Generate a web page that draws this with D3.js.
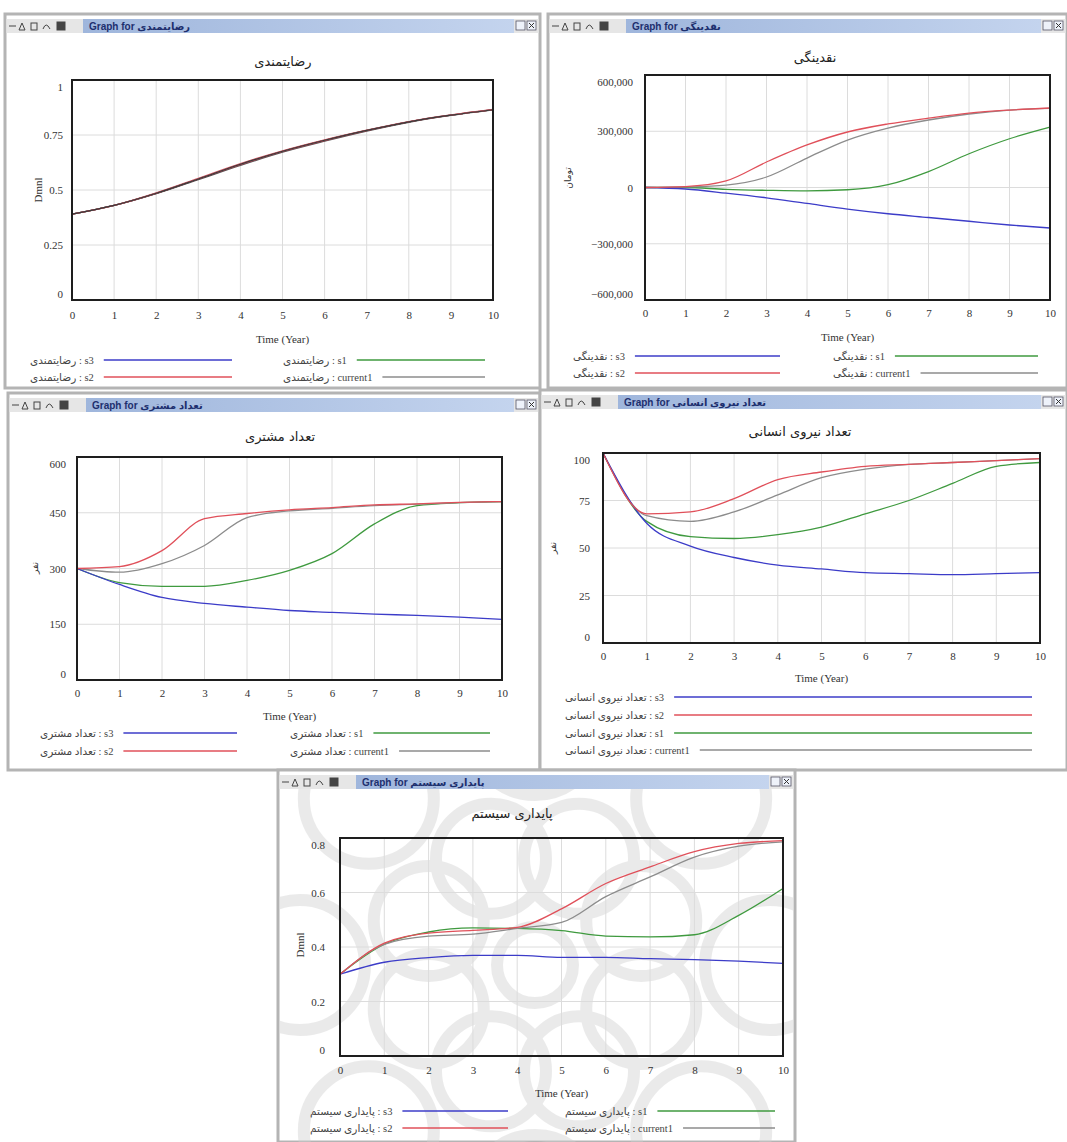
<!DOCTYPE html>
<html><head><meta charset="utf-8">
<script src="https://cdn.jsdelivr.net/npm/d3@7"></script>
<style>body{margin:0;background:#fff}svg{display:block}</style>
</head><body>
<script>
// ---------- data ----------
const years = [0,1,2,3,4,5,6,7,8,9,10];
const seriesNames = ["s3","s2","s1","current1"];
const xAxisTitle = "Time (Year)";

// Panel 1: رضایتمندی
const satisfactionTitle = "رضایتمندی";
const satisfactionUnit = "Dmnl";
const satisfactionTicks = [0,0.25,0.5,0.75,1];
const satisfaction_s3 = [0.39,0.43,0.485,0.55,0.615,0.675,0.725,0.77,0.81,0.84,0.865];
const satisfaction_s2 = [0.39,0.43,0.487,0.553,0.62,0.678,0.728,0.772,0.811,0.841,0.866];
const satisfaction_s1 = [0.39,0.43,0.483,0.547,0.612,0.672,0.722,0.768,0.808,0.839,0.864];
const satisfaction_current1 = [0.39,0.43,0.485,0.55,0.617,0.676,0.726,0.771,0.81,0.84,0.865];

// Panel 2: نقدینگی
const liquidityTitle = "نقدینگی";
const liquidityUnit = "تومان";
const liquidityTicks = [-600000,-300000,0,300000,600000];
const liquidity_s3 = [0,-8000,-30000,-55000,-85000,-115000,-140000,-160000,-180000,-200000,-216000];
const liquidity_s2 = [0,5000,35000,136000,227000,296000,339000,370000,397000,413000,424000];
const liquidity_s1 = [0,0,-10000,-15000,-18000,-12000,15000,85000,180000,260000,322000];
const liquidity_current1 = [0,3000,13000,56000,157000,253000,317000,360000,392000,413000,422000];

// Panel 3: تعداد مشتری
const customersTitle = "تعداد مشتری";
const customersUnit = "نفر";
const customersTicks = [0,150,300,450,600];
const customers_s3 = [300,257,222,206,196,187,182,177,174,169,163];
const customers_s2 = [300,305,348,434,448,458,464,471,474,478,480];
const customers_s1 = [300,262,252,252,268,295,340,420,469,477,480];
const customers_current1 = [300,290,313,362,437,455,462,469,473,477,480];

// Panel 4: تعداد نیروی انسانی
const manpowerTitle = "تعداد نیروی انسانی";
const manpowerUnit = "نفر";
const manpowerTicks = [0,25,50,75,100];
const manpower_s3 = [100,63,51,45,41,39,37,36.5,36,36.5,37];
const manpower_s2 = [100,68,69,76,86,90,93,94,95,96,97];
const manpower_s1 = [100,64,56,55,57,61,68,75,84,93,95];
const manpower_current1 = [100,67,64,69,78,87,91.5,94,95,96,97];

// Panel 5: پایداری سیستم
const stabilityTitle = "پایداری سیستم";
const stabilityUnit = "Dmnl";
const stabilityTicks = [0,0.2,0.4,0.6,0.8];
const stability_s3 = [0.30,0.344,0.361,0.369,0.369,0.362,0.362,0.357,0.354,0.348,0.34];
const stability_s2 = [0.30,0.414,0.451,0.461,0.472,0.54,0.633,0.694,0.75,0.78,0.79];
const stability_s1 = [0.30,0.41,0.455,0.47,0.468,0.46,0.44,0.437,0.445,0.516,0.615];
const stability_current1 = [0.30,0.41,0.44,0.447,0.468,0.49,0.585,0.657,0.73,0.77,0.786];

// ---------- styles / layout ----------
const colors = {s3:"#3c3cc8", s2:"#e0505a", s1:"#3f9a3f", current1:"#8c8c8c"};
const SERIF = "'Liberation Serif','DejaVu Serif',serif";
const AR = "'DejaVu Sans',sans-serif";

const panels = [
 {title:satisfactionTitle, unit:satisfactionUnit, ticks:satisfactionTicks, fmt:d3.format(""),
  series:{s3:satisfaction_s3,s2:satisfaction_s2,s1:satisfaction_s1,current1:satisfaction_current1},
  lineColors:{s3:"#b84a5a",s2:"#d05a66",s1:"#555",current1:"#3a3a3a"},
  win:[5,14,535,374], box:[72,80,493,300], titlePos:[283,66], yTickX:63, unitPos:[38,190],
  xTickY:319, xTitleY:339, rows:[360,377], cols:[[30,232],[283,485]]},
 {title:liquidityTitle, unit:liquidityUnit, ticks:liquidityTicks, fmt:d3.format(","),
  series:{s3:liquidity_s3,s2:liquidity_s2,s1:liquidity_s1,current1:liquidity_current1},
  win:[548,14,519,374], box:[645,75,1050,300], titlePos:[815,62], yTickX:633, unitPos:[568,178],
  xTickY:317, xTitleY:337, rows:[356,373], cols:[[573,780],[833,1038]]},
 {title:customersTitle, unit:customersUnit, ticks:customersTicks, fmt:d3.format(""),
  series:{s3:customers_s3,s2:customers_s2,s1:customers_s1,current1:customers_current1},
  win:[8,393,532,377], box:[77,457,502,680], titlePos:[280,441], yTickX:66, unitPos:[35,568],
  xTickY:697, xTitleY:716, rows:[733,751], cols:[[40,237],[290,490]]},
 {title:manpowerTitle, unit:manpowerUnit, ticks:manpowerTicks, fmt:d3.format(""),
  series:{s3:manpower_s3,s2:manpower_s2,s1:manpower_s1,current1:manpower_current1},
  win:[540,390,527,380], box:[603,453,1040,643], titlePos:[800,436], yTickX:590, unitPos:[553,548],
  xTickY:660, xTitleY:678, rows:[697,715,733,750], cols:[[565,1032]]},
 {title:stabilityTitle, unit:stabilityUnit, ticks:stabilityTicks, fmt:d3.format(""),
  series:{s3:stability_s3,s2:stability_s2,s1:stability_s1,current1:stability_current1},
  win:[278,770,517,372], box:[340,838,783,1056], titlePos:[512,818], yTickX:325, unitPos:[300,945],
  xTickY:1074, xTitleY:1093, rows:[1111,1128], cols:[[310,508],[565,775]], watermark:true}
];

const svg = d3.select("body").append("svg").attr("width",1067).attr("height",1142);
const defs = svg.append("defs");
const grad = defs.append("linearGradient").attr("id","barGrad");
grad.append("stop").attr("offset","0%").attr("stop-color","#9fb6dc");
grad.append("stop").attr("offset","100%").attr("stop-color","#c4d4ee");

panels.forEach((p, pi) => {
  const [wx, wy, ww, wh] = p.win;
  const g = svg.append("g");
  // window frame
  g.append("rect").attr("x",wx).attr("y",wy).attr("width",ww).attr("height",wh)
    .attr("fill","#fff").attr("stroke","#b4b4b4").attr("stroke-width",3);
  // title bar
  const by = wy + 5, bh = 14;
  g.append("rect").attr("x",wx+1.5).attr("y",by).attr("width",ww-3).attr("height",bh).attr("fill","#e6e6e6");
  g.append("rect").attr("x",wx+78).attr("y",by).attr("width",ww-104).attr("height",bh).attr("fill","url(#barGrad)");
  // icons
  const ic = g.append("g").attr("stroke","#444").attr("fill","none").attr("stroke-width",1);
  ic.append("line").attr("x1",wx+4).attr("x2",wx+11).attr("y1",by+7).attr("y2",by+7);
  ic.append("path").attr("d",`M${wx+14},${by+11} l3,-7 l3,7 z`);
  ic.append("rect").attr("x",wx+26).attr("y",by+4).attr("width",6).attr("height",7);
  ic.append("path").attr("d",`M${wx+38},${by+10} q3,-8 7,0`);
  ic.append("rect").attr("x",wx+52).attr("y",by+3).attr("width",8).attr("height",8).attr("fill","#444");
  g.append("text").attr("x",wx+84).attr("y",by+11).attr("font-family","'Liberation Sans','DejaVu Sans',sans-serif")
    .attr("font-size",10).attr("font-weight","bold").attr("fill","#1d2f6e").text("Graph for " + p.title);
  // buttons
  g.append("rect").attr("x",wx+ww-24).attr("y",by+2).attr("width",9).attr("height",9).attr("fill","#eef2fa").attr("stroke","#556").attr("stroke-width",0.8);
  g.append("rect").attr("x",wx+ww-13).attr("y",by+2).attr("width",9).attr("height",9).attr("fill","#eef2fa").attr("stroke","#556").attr("stroke-width",0.8);
  g.append("path").attr("d",`M${wx+ww-11},${by+4} l5,5 M${wx+ww-6},${by+4} l-5,5`).attr("stroke","#333").attr("stroke-width",1);

  const [bx0, by0, bx1, by1] = p.box;

  // watermark
  if (p.watermark) {
    const clipId = "clipw"+pi;
    defs.append("clipPath").attr("id",clipId).append("rect").attr("x",wx+2).attr("y",by+bh).attr("width",ww-4).attr("height",wh-bh-5);
    const wm = g.append("g").attr("clip-path",`url(#${clipId})`).attr("fill","none")
      .attr("stroke","#cfcfcf").attr("stroke-width",12).attr("opacity",0.42);
    const cx = 535, cy = 965;
    d3.range(8).forEach(i => {
      const a = i*Math.PI/4 + Math.PI/8;
      wm.append("circle").attr("cx",cx+115*Math.cos(a)).attr("cy",cy+115*Math.sin(a)).attr("r",55);
      const b = i*Math.PI/4;
      wm.append("circle").attr("cx",cx+235*Math.cos(b)).attr("cy",cy+235*Math.sin(b)).attr("r",65);
    });
    wm.append("circle").attr("cx",cx).attr("cy",cy).attr("r",38);
  }

  const x = d3.scaleLinear().domain([0,10]).range([bx0,bx1]);
  const y = d3.scaleLinear().domain(d3.extent(p.ticks)).range([by1,by0]);

  // grid
  const grid = g.append("g").attr("stroke","#dcdcdc").attr("stroke-width",1);
  years.slice(1,-1).forEach(t => grid.append("line").attr("x1",x(t)).attr("x2",x(t)).attr("y1",by0).attr("y2",by1));
  p.ticks.slice(1,-1).forEach(v => grid.append("line").attr("x1",bx0).attr("x2",bx1).attr("y1",y(v)).attr("y2",y(v)));

  // lines
  const line = d3.line().x((d,i)=>x(years[i])).y(d=>y(d)).curve(d3.curveMonotoneX);
  const lc = p.lineColors || colors;
  ["s1","current1","s3","s2"].forEach(k => {
    g.append("path").datum(p.series[k]).attr("d",line).attr("fill","none")
      .attr("stroke",lc[k]).attr("stroke-width",1.3);
  });
  if (pi === 0) {
    g.append("path").datum(p.series.current1).attr("d",line).attr("fill","none").attr("stroke","#3a3a3a").attr("stroke-width",1.2);
  }

  // box
  g.append("rect").attr("x",bx0).attr("y",by0).attr("width",bx1-bx0).attr("height",by1-by0)
    .attr("fill","none").attr("stroke","#1e1e1e").attr("stroke-width",2);

  // y axis
  const ya = g.append("g").attr("transform",`translate(${p.yTickX},0)`)
    .call(d3.axisLeft(y).tickValues(p.ticks).tickFormat(p.fmt).tickSize(0).tickPadding(0));
  ya.select(".domain").remove();
  ya.selectAll("text").attr("font-family",SERIF).attr("font-size",11).attr("fill","#333")
    .attr("dy", d => d === p.ticks[p.ticks.length-1] ? "0.95em" : (d === p.ticks[0] ? "-0.2em" : "0.32em"));

  // x axis
  const xa = g.append("g").attr("transform",`translate(0,${p.xTickY-8})`)
    .call(d3.axisBottom(x).tickValues(years).tickFormat(d3.format("d")).tickSize(0).tickPadding(0));
  xa.select(".domain").remove();
  xa.selectAll("text").attr("font-family",SERIF).attr("font-size",11).attr("fill","#333").attr("dy","0.71em");

  g.append("text").attr("x",(bx0+bx1)/2).attr("y",p.xTitleY+4).attr("text-anchor","middle")
    .attr("font-family",SERIF).attr("font-size",11).attr("fill","#333").text(xAxisTitle);

  // unit
  g.append("text").attr("transform",`translate(${p.unitPos[0]},${p.unitPos[1]}) rotate(-90)`)
    .attr("text-anchor","middle").attr("dy","0.35em")
    .attr("font-family", p.unit === "Dmnl" ? SERIF : AR).attr("font-size",p.unit==="Dmnl"?11:9).attr("fill","#333").text(p.unit);

  // title
  g.append("text").attr("x",p.titlePos[0]).attr("y",p.titlePos[1]).attr("text-anchor","middle")
    .attr("font-family",AR).attr("font-size",13).attr("fill","#222").text(p.title);

  // legend
  const items = seriesNames.map((k,i) => {
    const nRows = p.rows.length;
    return {k, col: Math.floor(i / nRows), row: i % nRows};
  });
  items.forEach(it => {
    const [tx, lx1] = p.cols[it.col];
    const ty = p.rows[it.row];
    const t = g.append("text").attr("x",tx).attr("y",ty+3.5).attr("direction","ltr")
      .attr("font-family",`'Liberation Serif','DejaVu Sans',serif`).attr("font-size",10.5).attr("fill","#444")
      .text(p.title + " : " + it.k);
    const tw = t.node().getComputedTextLength();
    g.append("line").attr("x1",tx+tw+10).attr("x2",lx1).attr("y1",ty).attr("y2",ty)
      .attr("stroke",colors[it.k]).attr("stroke-width",1.3);
  });
});
</script>
</body></html>
